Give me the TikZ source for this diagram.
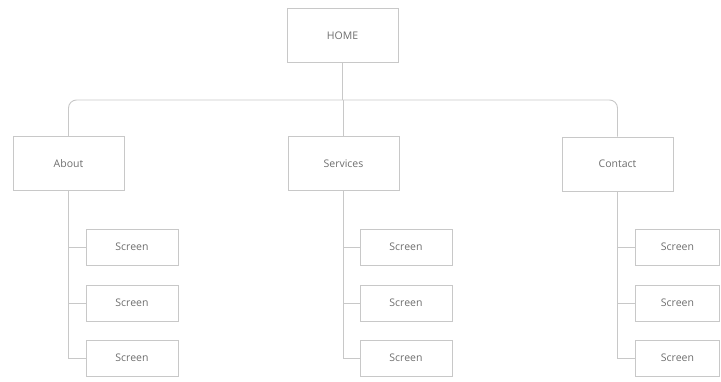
\documentclass[tikz,border=0pt]{standalone}
\usepackage{fontspec}
\setmainfont{Open Sans}
\definecolor{linegray}{RGB}{200,200,200}
\definecolor{textgray}{RGB}{110,110,110}
\begin{document}
\begin{tikzpicture}[x=1pt,y=-1pt,
  box/.style={draw=linegray,line width=0.9pt,fill=white,inner sep=0pt,
    font=\fontsize{10.5}{12}\selectfont,text=textgray},
  mainbox/.style={box,minimum width=111pt,minimum height=54pt},
  screenbox/.style={box,minimum width=92pt,minimum height=36pt},
  conn/.style={draw=linegray,line width=0.9pt}]
\useasboundingbox (0,0) rectangle (721,381);
\node[mainbox] (home) at (342.5,35.5) {HOME};
\node[mainbox] (about) at (68.5,163.5) {About};
\node[mainbox] (services) at (343.5,163.5) {Services};
\node[mainbox] (contact) at (617.5,164) {Contact};
\coordinate (bus) at (342.5,100);
\foreach \p/\x/\w in {a/132/92,s/406/92,c/677.5/84}{
  \node[screenbox,minimum width=\w pt] (\p1) at (\x,247) {Screen};
  \node[screenbox,minimum width=\w pt] (\p2) at (\x,303) {Screen};
  \node[screenbox,minimum width=\w pt] (\p3) at (\x,358) {Screen};
}
\draw[conn] (home.south) -- (bus);
\draw[conn,rounded corners=8pt] (about.north) |- (bus) -| (contact.north);
\draw[conn] (services.north) -- (services.north |- bus);
\foreach \m/\p in {about/a,services/s,contact/c}{
  \draw[conn] (\m.south) |- (\p3.west);
  \draw[conn] (\m.south |- \p1.west) -- (\p1.west);
  \draw[conn] (\m.south |- \p2.west) -- (\p2.west);
}
\end{tikzpicture}
\end{document}
